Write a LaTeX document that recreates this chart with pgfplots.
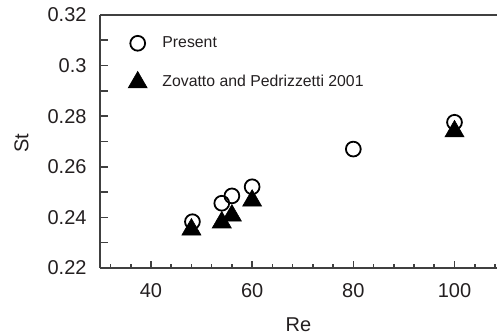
\documentclass[border=0pt]{standalone}
\usepackage{fontspec}
\setmainfont{Liberation Sans}
\usepackage{pgfplots}
\pgfplotsset{compat=1.18}
\definecolor{axgray}{RGB}{64,64,64}
\definecolor{txt}{RGB}{35,31,32}
\begin{document}
\begin{tikzpicture}
\begin{axis}[
  name=ax,
  at={(0,0)}, anchor=south west,
  scale only axis,
  width=198.5pt, height=126.5pt,
  xmin=29.93, xmax=108.4,
  ymin=0.22, ymax=0.32,
  axis x line=box,
  axis y line=left,
  axis line style={-, axgray, line width=1pt},
  every tick/.style={axgray, line width=0.8pt},
  tick pos=left,
  tick align=inside,
  xtick={40,60,80,100},
  minor xtick={32,36,...,108},
  ytick={0.22,0.24,0.26,0.28,0.30,0.32},
  yticklabels={0.22,0.24,0.26,0.28,0.3,0.32},
  minor ytick={0.23,0.25,0.27,0.29,0.31},
  major tick length=4pt,
  minor tick length=4pt,
  x tick style={/pgfplots/major tick length=3.5pt, /pgfplots/minor tick length=2pt},
  /pgf/number format/assume math mode=true,
  tick label style={font=\fontsize{10}{12}\selectfont, text=txt},
  yticklabel style={xshift=-3.2pt},
  xticklabel style={yshift=-4pt},
  xlabel={Re}, ylabel={St},
  label style={font=\fontsize{10}{12}\selectfont, text=txt},
  xlabel style={at={(axis description cs:0.5,0)}, anchor=north, inner sep=0pt, yshift=-24.5pt},
  ylabel style={at={(axis description cs:-0.1977,0.494)}, anchor=center, inner sep=0pt},
  legend style={draw=none, fill=none, at={(rel axis cs:0.07,0.933)}, anchor=north west,
    font=\fontsize{7.9}{9}\selectfont, text=txt, row sep=8.5pt, column sep=5.6pt, inner sep=0pt},
  legend cell align=left,
  legend image code/.code={\draw[#1] plot coordinates {(0pt,0pt)};},
  clip=false,
]
\addplot[only marks, mark=o, mark size=3.7pt, line width=0.9pt, draw=black] coordinates {
  (48.2,0.2383) (54,0.2456) (56,0.2485) (60,0.2521) (80,0.2670) (100,0.2776)
};
\addlegendentry{Present}
\addplot[only marks, mark=triangle*, mark size=5.5pt, line width=0.3pt, draw=black, fill=black] coordinates {
  (48,0.2352) (54,0.2380) (56,0.2407) (60,0.2466) (100,0.2740)
};
\addlegendentry{Zovatto and Pedrizzetti 2001}
\end{axis}
\pgfresetboundingbox
\path[use as bounding box] ([shift={(-50pt,-34pt)}]ax.south west) rectangle ([shift={(0pt,7.5pt)}]ax.north east);
\end{tikzpicture}
\end{document}
